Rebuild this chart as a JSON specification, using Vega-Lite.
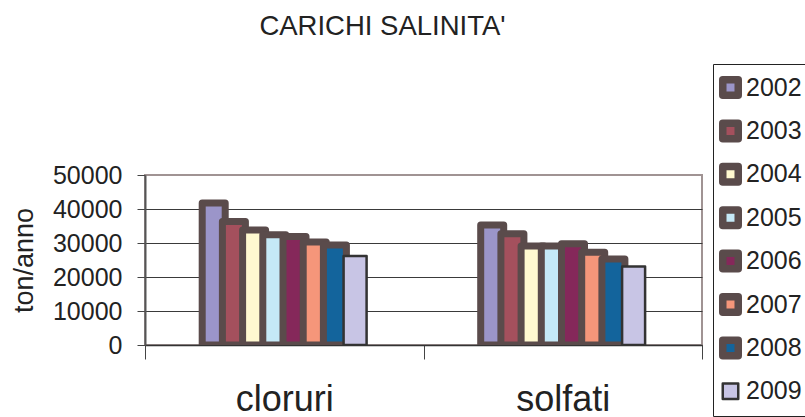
{
  "$schema": "https://vega.github.io/schema/vega-lite/v6.json",
  "autosize": {"type": "none"},
  "padding": {"left": 145, "top": 175, "right": 103, "bottom": 72},
  "width": 557,
  "height": 170,
  "background": "white",
  "title": {
    "text": "CARICHI SALINITA'",
    "font": "Liberation Sans",
    "fontSize": 27.5,
    "fontWeight": "normal",
    "color": "#222222",
    "anchor": "middle",
    "frame": "group",
    "dx": -41,
    "offset": 23
  },
  "data": {
    "values": [
      {"cat": "cloruri", "year": "2002", "value": 41800},
      {"cat": "cloruri", "year": "2003", "value": 36300},
      {"cat": "cloruri", "year": "2004", "value": 33800},
      {"cat": "cloruri", "year": "2005", "value": 32400},
      {"cat": "cloruri", "year": "2006", "value": 31900},
      {"cat": "cloruri", "year": "2007", "value": 30300},
      {"cat": "cloruri", "year": "2008", "value": 29400},
      {"cat": "cloruri", "year": "2009", "value": 26200},
      {"cat": "solfati", "year": "2002", "value": 35300},
      {"cat": "solfati", "year": "2003", "value": 32700},
      {"cat": "solfati", "year": "2004", "value": 29100},
      {"cat": "solfati", "year": "2005", "value": 29100},
      {"cat": "solfati", "year": "2006", "value": 29800},
      {"cat": "solfati", "year": "2007", "value": 27300},
      {"cat": "solfati", "year": "2008", "value": 25300},
      {"cat": "solfati", "year": "2009", "value": 23100}
    ]
  },
  "mark": {"type": "bar", "width": 23, "clip": true, "strokeJoin": "round"},
  "encoding": {
    "x": {
      "field": "cat",
      "type": "nominal",
      "scale": {"paddingInner": 0, "paddingOuter": 0},
      "axis": {
        "title": null,
        "labelAngle": 0,
        "labelFont": "Liberation Sans",
        "labelFontSize": 36,
        "labelColor": "#222222",
        "labelPadding": 23,
        "tickBand": "extent",
        "tickSize": 14,
        "tickColor": "#444444",
        "domainColor": "#333333",
        "domainWidth": 1.5,
        "grid": false
      }
    },
    "xOffset": {
      "field": "year",
      "type": "nominal",
      "scale": {"range": [58.6, 220.2], "paddingInner": 0, "paddingOuter": 0}
    },
    "y": {
      "field": "value",
      "type": "quantitative",
      "scale": {"domain": [0, 50000], "nice": false},
      "axis": {
        "title": "ton/anno",
        "values": [0, 10000, 20000, 30000, 40000, 50000],
        "format": "d",
        "labelFont": "Liberation Sans",
        "labelFontSize": 25,
        "labelColor": "#222222",
        "labelPadding": 15,
        "tickSize": 8,
        "tickColor": "#444444",
        "domainColor": "#555555",
        "domainWidth": 2,
        "grid": true,
        "gridColor": {"condition": {"test": "datum.value === 50000", "value": "transparent"}, "value": "#3a3a3a"},
        "gridWidth": 1,
        "titleFont": "Liberation Sans",
        "titleFontSize": 27,
        "titleFontWeight": "normal",
        "titleColor": "#222222",
        "titleBaseline": "alphabetic",
        "titleX": -113,
        "titleY": 85
      }
    },
    "color": {
      "field": "year",
      "type": "nominal",
      "scale": {
        "domain": ["2002", "2003", "2004", "2005", "2006", "2007", "2008", "2009"],
        "range": ["#9b95c9", "#a4505d", "#fff9d0", "#c5e9f7", "#85285a", "#f5967a", "#13649c", "#c8c5e5"]
      },
      "legend": {
        "title": null,
        "orient": "none",
        "legendX": 568,
        "legendY": -111,
        "strokeColor": "#222222",
        "padding": 11,
        "rowPadding": 17.4,
        "labelFont": "Liberation Sans",
        "labelFontSize": 25,
        "labelColor": "#222222",
        "labelOffset": 3,
        "symbolOffset": -6,
        "symbolType": "square",
        "symbolSize": 240,
        "symbolStrokeWidth": 7.5,
        "symbolStrokeColor": "#5a4b4b",
        "symbolOpacity": 1,
        "encode": {
          "symbols": {
            "update": {
              "stroke": {"signal": "datum.value === '2009' ? '#333333' : '#5a4b4b'"},
              "strokeWidth": {"signal": "datum.value === '2009' ? 2.5 : 7.5"},
              "strokeJoin": {"value": "round"}
            }
          }
        }
      }
    },
    "stroke": {"condition": {"test": "datum.year === '2009'", "value": "#333333"}, "value": "#5a4b4b"},
    "strokeWidth": {"condition": {"test": "datum.year === '2009'", "value": 2.5}, "value": 7}
  },
  "config": {
    "view": {"stroke": "#a09393", "strokeWidth": 2},
    "font": "Liberation Sans"
  }
}
